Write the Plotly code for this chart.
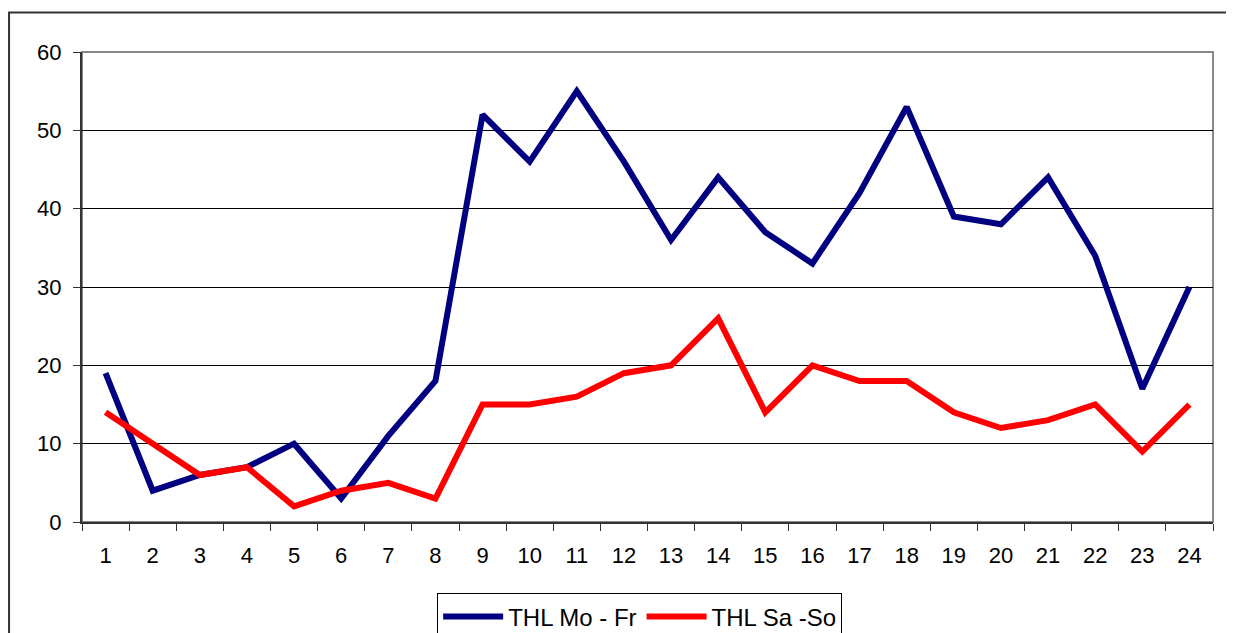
import plotly.graph_objects as go

hours = [str(h) for h in range(1, 25)]
mo_fr = [19, 4, 6, 7, 10, 3, 11, 18, 52, 46, 55, 46, 36, 44, 37, 33, 42, 53, 39, 38, 44, 34, 17, 30]
sa_so = [14, 10, 6, 7, 2, 4, 5, 3, 15, 15, 16, 19, 20, 26, 14, 20, 18, 18, 14, 12, 13, 15, 9, 15]

fig = go.Figure()
fig.add_trace(go.Scatter(x=hours, y=mo_fr, mode="lines", name="THL Mo - Fr",
                         line=dict(color="#000080", width=6)))
fig.add_trace(go.Scatter(x=hours, y=sa_so, mode="lines", name="THL Sa -So",
                         line=dict(color="#FF0000", width=6)))

# plot frame (gray) and outer chart border
fig.add_shape(type="rect", xref="paper", yref="paper", x0=0, x1=1, y0=0, y1=1,
              line=dict(color="#888888", width=2), layer="below")
fig.add_shape(type="path", xref="paper", yref="paper",
              path="M -0.0645,-0.3 L -0.0645,1.084 L 1.1,1.084",
              line=dict(color="#333333", width=2))

fig.update_layout(
    width=1234, height=633,
    margin=dict(l=74, r=29, t=44, b=119, autoexpand=False),
    paper_bgcolor="white", plot_bgcolor="white",
    font=dict(family="Liberation Sans, Arial, sans-serif", size=22, color="black"),
    showlegend=True,
    legend=dict(orientation="h", x=0.314, y=-0.152, xanchor="left", yanchor="top",
                bordercolor="black", borderwidth=1, font=dict(size=24),
                itemwidth=60, tracegroupgap=0),
)
fig.update_xaxes(type="category", range=[-0.5, 23.5], tickson="boundaries",
                 ticks="outside", ticklen=7, tickfont=dict(size=22),
                 tickcolor="#333333", showline=True, linecolor="#333333", linewidth=2,
                 showgrid=False, ticklabelstandoff=13)
fig.update_yaxes(range=[0, 60], dtick=10, ticks="outside", ticklen=7, tickfont=dict(size=22),
                 tickcolor="#333333", showline=True, linecolor="#333333", linewidth=2,
                 gridcolor="black", gridwidth=1, zeroline=False, ticklabelstandoff=7)

fig.write_html("out.html")
